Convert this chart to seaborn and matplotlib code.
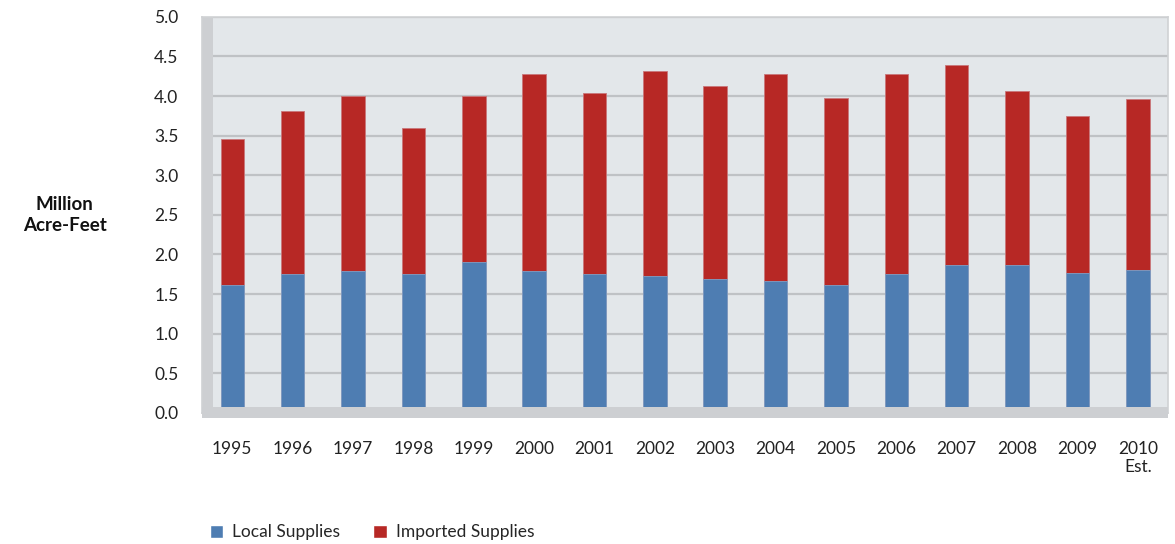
import matplotlib
matplotlib.use("Agg")
import matplotlib.pyplot as plt
import seaborn as sns
import pandas as pd
from matplotlib.patches import Rectangle, Patch

years = ["1995", "1996", "1997", "1998", "1999", "2000", "2001", "2002",
         "2003", "2004", "2005", "2006", "2007", "2008", "2009", "2010\nEst."]
local = [1.62, 1.75, 1.79, 1.75, 1.91, 1.79, 1.75, 1.73,
         1.69, 1.67, 1.62, 1.75, 1.87, 1.87, 1.77, 1.81]
imported = [1.84, 2.06, 2.21, 1.85, 2.09, 2.49, 2.29, 2.59,
            2.44, 2.61, 2.36, 2.53, 2.52, 2.20, 1.98, 2.15]

blue = "#4e7db2"
red = "#b72825"

df = pd.DataFrame({"year": years, "local": local, "imported": imported})
df["total"] = df["local"] + df["imported"]

sns.set_style("white")
plt.rcParams["font.family"] = ["Lato", "DejaVu Sans"]

fig = plt.figure(figsize=(11.75, 5.44), dpi=100)
ax = fig.add_axes([0.172, 0.241, 0.822, 0.728])
ax.set_facecolor("#e3e7ea")

# stacked bars: total (imported on top) then local drawn over it
sns.barplot(data=df, x="year", y="total", color=red, width=0.39,
            saturation=1, ax=ax, zorder=3, linewidth=0.6, edgecolor="#c9777a")
sns.barplot(data=df, x="year", y="local", color=blue, width=0.39,
            saturation=1, ax=ax, zorder=4, linewidth=0.6, edgecolor="#7f9fc6")

ax.set_ylim(0, 5)
ax.set_xlim(-0.5, len(years) - 0.5)
ax.set_yticks([i * 0.5 for i in range(11)])
ax.set_yticklabels([f"{i * 0.5:.1f}" for i in range(11)])
ax.yaxis.grid(True, color="#bfc2c5", linewidth=1.6, zorder=1)
ax.set_axisbelow(True)
ax.tick_params(axis="both", length=0, labelsize=12.5, colors="#222222")
ax.tick_params(axis="y", pad=17)
ax.tick_params(axis="x", pad=20)
ax.set_xlabel("")
ax.set_ylabel("")

for s in ax.spines.values():
    s.set_color("#d0d2d4")
    s.set_linewidth(1.2)

# 3D look: left wall and floor
ax.add_patch(Rectangle((0, 0), 0.011, 1, transform=ax.transAxes,
                       facecolor="#cdcfd2", edgecolor="none", zorder=2))
ax.add_patch(Rectangle((0, -0.012), 1, 0.026, transform=ax.transAxes,
                       facecolor="#cdcfd2", edgecolor="none", zorder=5,
                       clip_on=False))

fig.text(0.055, 0.605, "Million\nAcre-Feet", fontsize=13.5, fontweight="bold",
         ha="center", va="center", linespacing=1.3, color="#111111")

handles = [Patch(facecolor=blue, label="Local Supplies"),
           Patch(facecolor=red, label="Imported Supplies")]
fig.legend(handles=handles, loc="lower left", bbox_to_anchor=(0.165, -0.022),
           ncol=2, frameon=False, fontsize=12.5, handlelength=0.8,
           handleheight=0.8, columnspacing=1.9, handletextpad=0.5)

fig.savefig("out.png", dpi=100)
